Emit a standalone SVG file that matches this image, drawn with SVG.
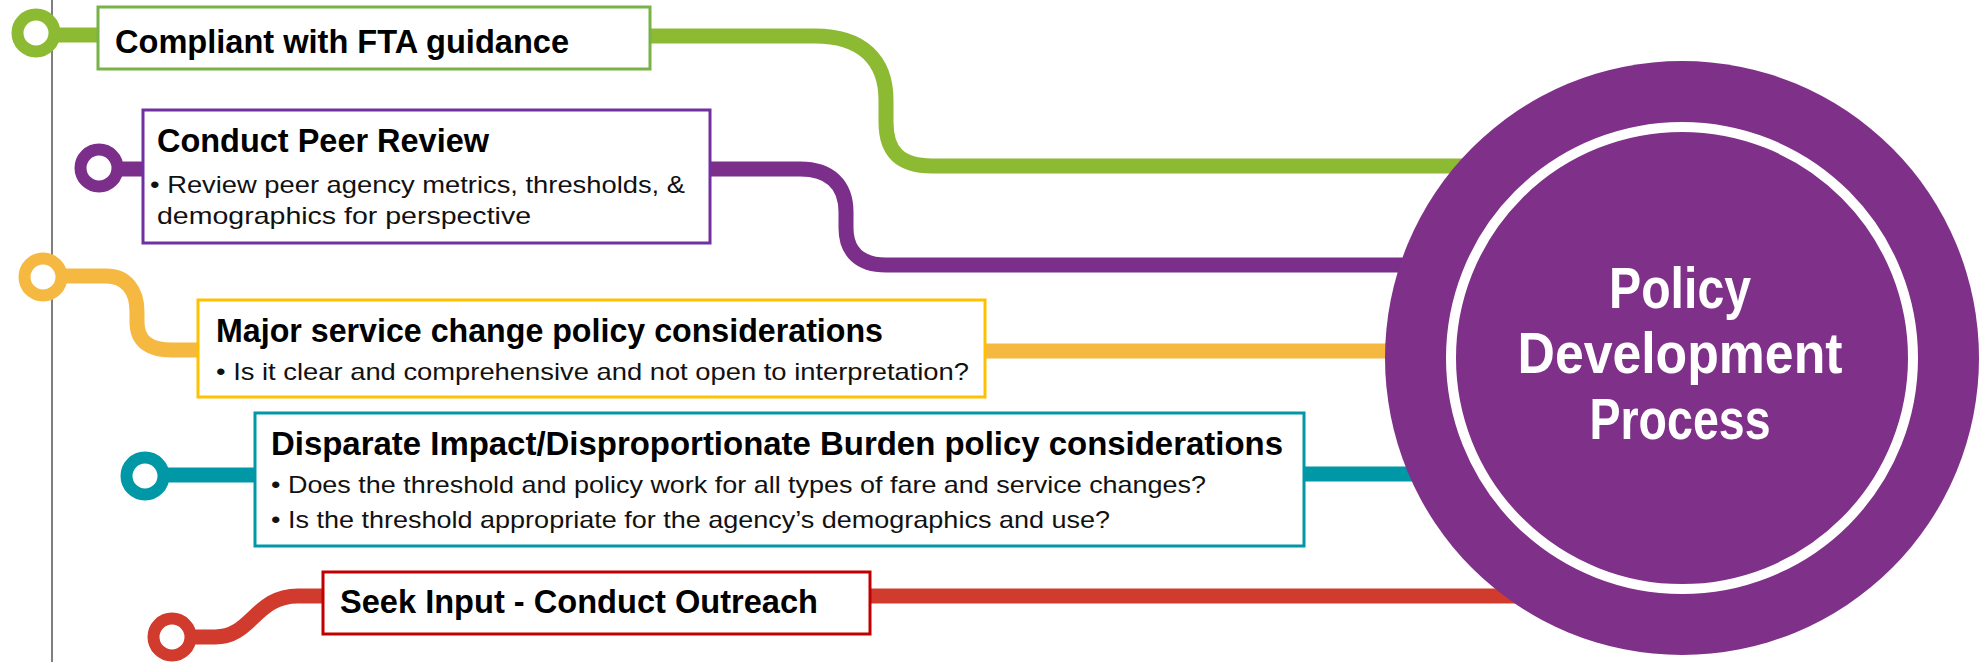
<svg xmlns="http://www.w3.org/2000/svg" width="1984" height="662" viewBox="0 0 1984 662">
<defs>
<style>
.ln{fill:none;stroke-width:15;stroke-linecap:butt;stroke-linejoin:round}
.ring{fill:#ffffff;stroke-width:12}
.box{fill:#ffffff;stroke-width:3}
.t{font-family:"Liberation Sans",Arial,sans-serif;font-weight:bold;font-size:34px;fill:#000000}
.b{font-family:"Liberation Sans",Arial,sans-serif;font-size:24px;fill:#111111}
.c{font-family:"Liberation Sans",Arial,sans-serif;font-weight:bold;font-size:58px;fill:#ffffff;text-anchor:middle}
</style>
</defs>
<rect width="1984" height="662" fill="#ffffff"/>
<line x1="52" y1="0" x2="52" y2="662" stroke="#7f7f7f" stroke-width="2"/>
<g id="connectors">
<path class="ln" stroke="#8cba32" d="M36,35 H100 M648,36 H815 C862,36 886,60 886,100 V122 C886,152 900,166 932,166 H1520"/>
<path class="ln" stroke="#7b2f8b" d="M99,169 H145 M708,169 H800 C830,169 846,185 846,212 V228 C846,252 860,265 886,265 H1440"/>
<path class="ln" stroke="#f5b942" d="M43,276 H106 C126,276 137,290 137,312 V322 C137,342 150,350 172,350 H200 M983,351 H1420"/>
<path class="ln" stroke="#0097a7" d="M145,475 H257 M1302,474 H1420"/>
<path class="ln" stroke="#d13b2e" d="M172,637 H215 C252,637 255,596 298,596 H325 M868,596 H1530"/>
</g>
<g id="rings">
<circle class="ring" stroke="#8cba32" cx="36" cy="33" r="18.5"/>
<circle class="ring" stroke="#7b2f8b" cx="99" cy="168" r="18.5"/>
<circle class="ring" stroke="#f5b942" cx="43" cy="277" r="18.5"/>
<circle class="ring" stroke="#0097a7" cx="145" cy="476" r="18.5"/>
<circle class="ring" stroke="#d13b2e" cx="172" cy="637" r="18.5"/>
</g>
<g id="node-fta">
<rect class="box" stroke="#77b347" x="98" y="7" width="552" height="62"/>
<text class="t" x="115" y="53" textLength="454" lengthAdjust="spacingAndGlyphs">Compliant with FTA guidance</text>
</g>
<g id="node-peer">
<rect class="box" stroke="#7030a0" x="143" y="110" width="567" height="133"/>
<text class="t" x="157" y="152" textLength="332" lengthAdjust="spacingAndGlyphs">Conduct Peer Review</text>
<text class="b" x="150" y="193" textLength="535" lengthAdjust="spacingAndGlyphs">• Review peer agency metrics, thresholds, &amp;</text>
<text class="b" x="157" y="224" textLength="374" lengthAdjust="spacingAndGlyphs">demographics for perspective</text>
</g>
<g id="node-major">
<rect class="box" stroke="#ffc000" x="198" y="300" width="787" height="97"/>
<text class="t" x="216" y="342" textLength="667" lengthAdjust="spacingAndGlyphs">Major service change policy considerations</text>
<text class="b" x="216" y="380" textLength="753" lengthAdjust="spacingAndGlyphs">• Is it clear and comprehensive and not open to interpretation?</text>
</g>
<g id="node-disparate">
<rect class="box" stroke="#0097a7" x="255" y="413" width="1049" height="133"/>
<text class="t" x="271" y="455" textLength="1012" lengthAdjust="spacingAndGlyphs">Disparate Impact/Disproportionate Burden policy considerations</text>
<text class="b" x="271" y="493" textLength="935" lengthAdjust="spacingAndGlyphs">• Does the threshold and policy work for all types of fare and service changes?</text>
<text class="b" x="271" y="528" textLength="839" lengthAdjust="spacingAndGlyphs">• Is the threshold appropriate for the agency’s demographics and use?</text>
</g>
<g id="node-outreach">
<rect class="box" stroke="#c00000" x="323" y="572" width="547" height="62"/>
<text class="t" x="340" y="613" textLength="478" lengthAdjust="spacingAndGlyphs">Seek Input - Conduct Outreach</text>
</g>
<g id="node-policy">
<circle cx="1682" cy="358" r="297" fill="#7f3089"/>
<circle cx="1682" cy="358" r="231" fill="none" stroke="#ffffff" stroke-width="10"/>
<text class="c" x="1680" y="308" textLength="142" lengthAdjust="spacingAndGlyphs">Policy</text>
<text class="c" x="1680" y="373" textLength="325" lengthAdjust="spacingAndGlyphs">Development</text>
<text class="c" x="1680" y="439" textLength="181" lengthAdjust="spacingAndGlyphs">Process</text>
</g>
</svg>
